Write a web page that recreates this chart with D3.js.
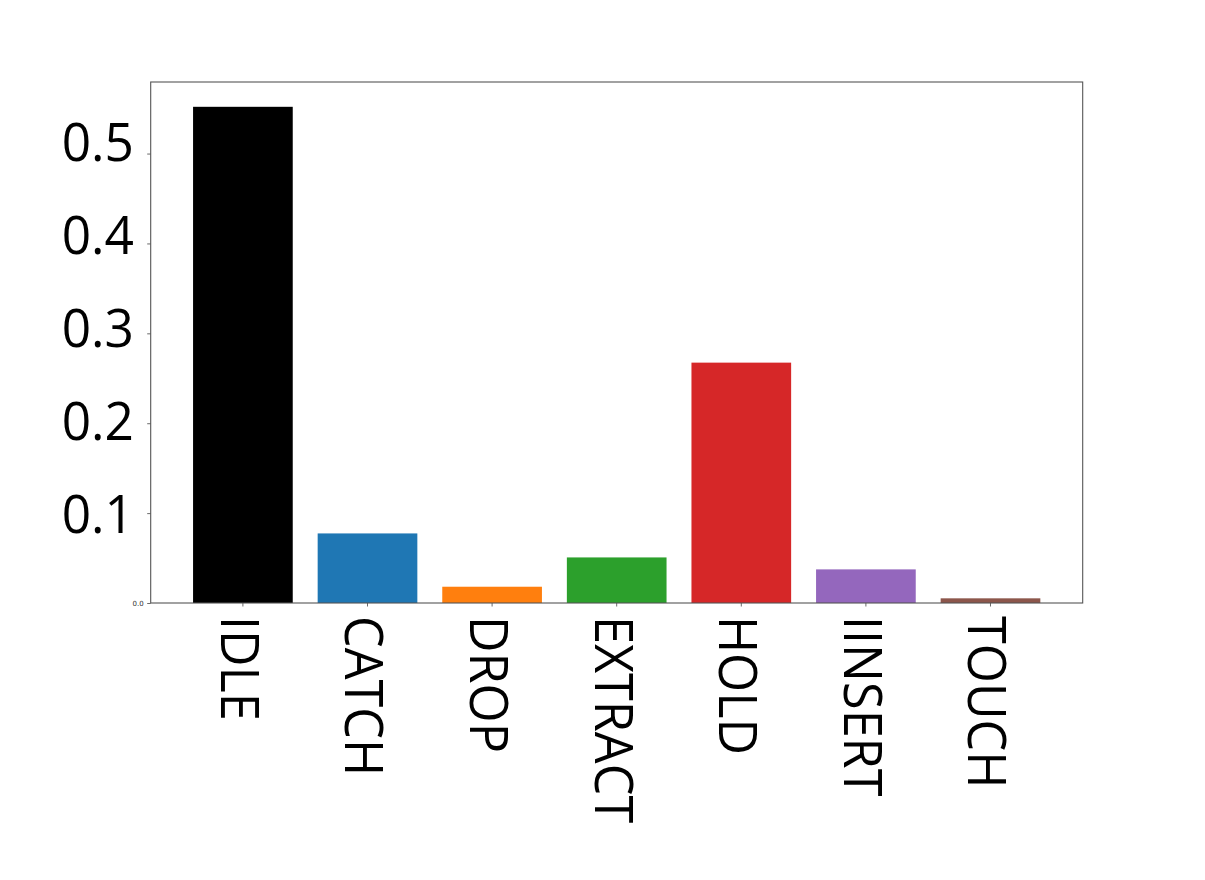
<!DOCTYPE html>
<html>
<head>
<meta charset="utf-8">
<script src="https://cdn.jsdelivr.net/npm/d3@7"></script>
<style>
   body { margin: 0; background: #ffffff; }
   #plotDiv { width: 1205px; height: 880px; }
</style>
</head>
<body>
<div id="plotDiv"></div>
<script>
//----------------------------------------------------------------------------------------------------
var categories = ["IDLE", "CATCH", "DROP", "EXTRACT", "HOLD", "IINSERT", "TOUCH"];
var values     = [0.552, 0.0774, 0.0181, 0.0507, 0.2674, 0.0374, 0.0052];
var barColors  = ["#000000", "#1f77b4", "#ff7f0e", "#2ca02c", "#d62728", "#9467bd", "#8c564b"];
var yTicks      = [0.0, 0.1, 0.2, 0.3, 0.4, 0.5];
var yTickLabels = ["0.1", "0.2", "0.3", "0.4", "0.5"];   // the large overlaid labels
var yLabelValues = [0.1, 0.2, 0.3, 0.4, 0.5];
//----------------------------------------------------------------------------------------------------
var width = 1205;
var height = 880;
   // note: "top" is a read-only window property, so these get a prefix
var plotLeft = 150.7, plotRight = 1082.7, plotTop = 82, plotBottom = 603;
var fontFamily = "'Open Sans', 'Noto Sans', sans-serif";

//----------------------------------------------------------------------------------------------------
function drawChart()
{
   var svg = d3.select("#plotDiv")
      .append("svg")
      .attr("width", width)
      .attr("height", height);

   var xScale = d3.scaleBand()
      .domain(categories)
      .range([plotLeft, plotRight])
      .paddingInner(0.2)
      .paddingOuter(0.34);

   var yMax = d3.max(values) * 1.05;
   var yScale = d3.scaleLinear()
      .domain([0, yMax])
      .range([plotBottom, plotTop]);

      // the big tick labels sit slightly off their ticks in the reference
   var labelScale = d3.scaleLinear()
      .domain([0.1, 0.5])
      .range([514, 142]);

   svg.selectAll("rect.bar")
      .data(values)
      .enter()
      .append("rect")
      .attr("class", "bar")
      .attr("x", function(d, i){ return xScale(categories[i]); })
      .attr("y", function(d){ return yScale(d); })
      .attr("width", xScale.bandwidth())
      .attr("height", function(d){ return yScale(0) - yScale(d); })
      .style("fill", function(d, i){ return barColors[i]; });

   // y axis: ticks with only the tiny 0.0 label
   var yAxis = d3.axisLeft(yScale)
      .tickValues(yTicks)
      .tickSize(3.5)
      .tickPadding(3.5)
      .tickFormat(function(d){ return d === 0 ? "0.0" : ""; });

   var gy = svg.append("g")
      .attr("transform", "translate(" + plotLeft + ",0)")
      .call(yAxis);
   gy.select(".domain").remove();
   gy.selectAll("line").attr("stroke", "#444").attr("stroke-width", 0.8);
   gy.selectAll("text")
      .attr("fill", "#333")
      .style("font-family", "'DejaVu Sans', sans-serif")
      .style("font-size", "7px");

   var xAxis = d3.axisBottom(xScale)
      .tickSize(3.5)
      .tickFormat("");

   var gx = svg.append("g")
      .attr("transform", "translate(0," + plotBottom + ")")
      .call(xAxis);
   gx.select(".domain").remove();
   gx.selectAll("line").attr("stroke", "#444").attr("stroke-width", 0.8);

   // frame
   svg.append("rect")
      .attr("x", plotLeft)
      .attr("y", plotTop)
      .attr("width", plotRight - plotLeft)
      .attr("height", plotBottom - plotTop)
      .attr("fill", "none")
      .attr("stroke", "#555")
      .attr("stroke-width", 1.1);

   // large y labels
   svg.selectAll("text.ylab")
      .data(yLabelValues)
      .enter()
      .append("text")
      .attr("class", "ylab")
      .attr("transform", function(d){
         return "translate(134," + labelScale(d) + ") scale(0.97,1)";
         })
      .attr("dy", "0.36em")
      .attr("text-anchor", "end")
      .style("font-family", fontFamily)
      .style("font-size", "53px")
      .attr("fill", "#000")
      .text(function(d, i){ return yTickLabels[i]; });

   // large rotated x labels, a touch narrower than Open Sans
   svg.selectAll("text.xlab")
      .data(categories)
      .enter()
      .append("text")
      .attr("class", "xlab")
      .attr("transform", function(d){
         var cx = xScale(d) + xScale.bandwidth() / 2;
         return "translate(" + cx + ",616) rotate(90) scale(0.95,1)";
         })
      .attr("x", 0)
      .attr("y", 22)
      .attr("text-anchor", "start")
      .style("font-family", fontFamily)
      .style("font-size", "53px")
      .attr("fill", "#000")
      .text(function(d){ return d; });

} // drawChart
//----------------------------------------------------------------------------------------------------
drawChart();
</script>
</body>
</html>
